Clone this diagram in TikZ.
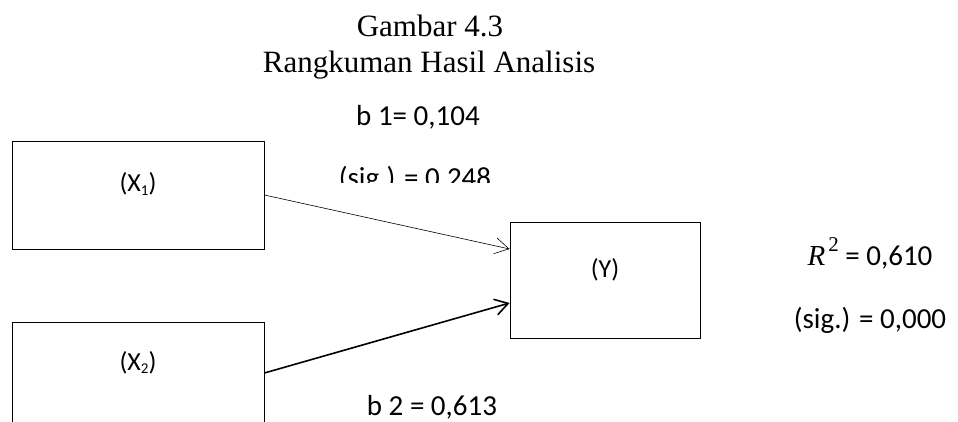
\documentclass[tikz,border=0pt]{standalone}
\usepackage{fontspec}
\setmainfont{Liberation Serif}
\newfontfamily\labelfont{Carlito}
\usetikzlibrary{arrows.meta,calc}
\tikzset{
  varbox/.style={draw=black, line width=0.8pt, minimum width=252pt, minimum height=108pt, inner sep=0pt},
  ybox/.style={draw=black, line width=0.8pt, minimum width=190pt, minimum height=116pt, inner sep=0pt},
  titletext/.style={font=\fontsize{31}{31}\selectfont, anchor=base, inner sep=0pt},
  stattext/.style={font=\labelfont\fontsize{29}{29}\selectfont, anchor=base, inner sep=0pt},
  vartext/.style={font=\labelfont\fontsize{26}{26}\selectfont, anchor=base, inner sep=0pt},
  thinpath/.style={line width=0.6pt, -{Straight Barb[length=14pt,width=16pt,line width=0.6pt]}},
  thickpath/.style={line width=1.6pt, -{Straight Barb[length=13pt,width=16pt,line width=1.6pt]}}
}
\newcommand{\subone}{\raisebox{-0.12em}{\fontsize{15}{15}\selectfont 1}}
\newcommand{\subtwo}{\raisebox{-0.12em}{\fontsize{15}{15}\selectfont 2}}
\newcommand{\rsquared}{{\rmfamily\itshape R}\kern3pt\raisebox{0.48em}{\rmfamily\fontsize{21}{21}\selectfont 2}}
\begin{document}
\begin{tikzpicture}[x=1pt,y=-1pt]
  \clip (0,0) rectangle (958,422);
  \fill[white] (0,0) rectangle (958,422);

  % heading
  \node[titletext] (title1) at (430,37) {Gambar 4.3};
  \node[titletext] (title2) at (429,73) {Rangkuman Hasil Analisis};

  % variable boxes
  \node[varbox] (x1) at (138,195) {};
  \node[varbox] (x2) at (138,376) {};
  \node[ybox] (y) at (605,280) {};

  \node[vartext] (x1lab) at (138,192) {(X\subone)};
  \node[vartext] (x2lab) at (138,370) {(X\subtwo)};
  \node[vartext] (ylab) at (605,277) {(Y)};

  % paths
  \draw[thinpath] (x1.east) -- ($(y.west)+(0,-31)$);
  \draw[thickpath] ($(x2.east)+(0,-3)$) -- ($(y.west)+(0,23)$);

  % coefficients
  \node[stattext] (b1) at (418,126) {b 1= 0,104};
  \begin{scope}
    \clip (300,150) rectangle (560,183);
    \node[stattext] (sig1) at (415,188) {(sig.) = 0,248};
  \end{scope}
  \node[stattext] (b2) at (432,415) {b 2 = 0,613};

  % model fit
  \node[stattext] (r2) at (870,265) {\rsquared{} = 0,610};
  \node[stattext] (sig) at (870,328) {(sig.) = 0,000};
\end{tikzpicture}
\end{document}
